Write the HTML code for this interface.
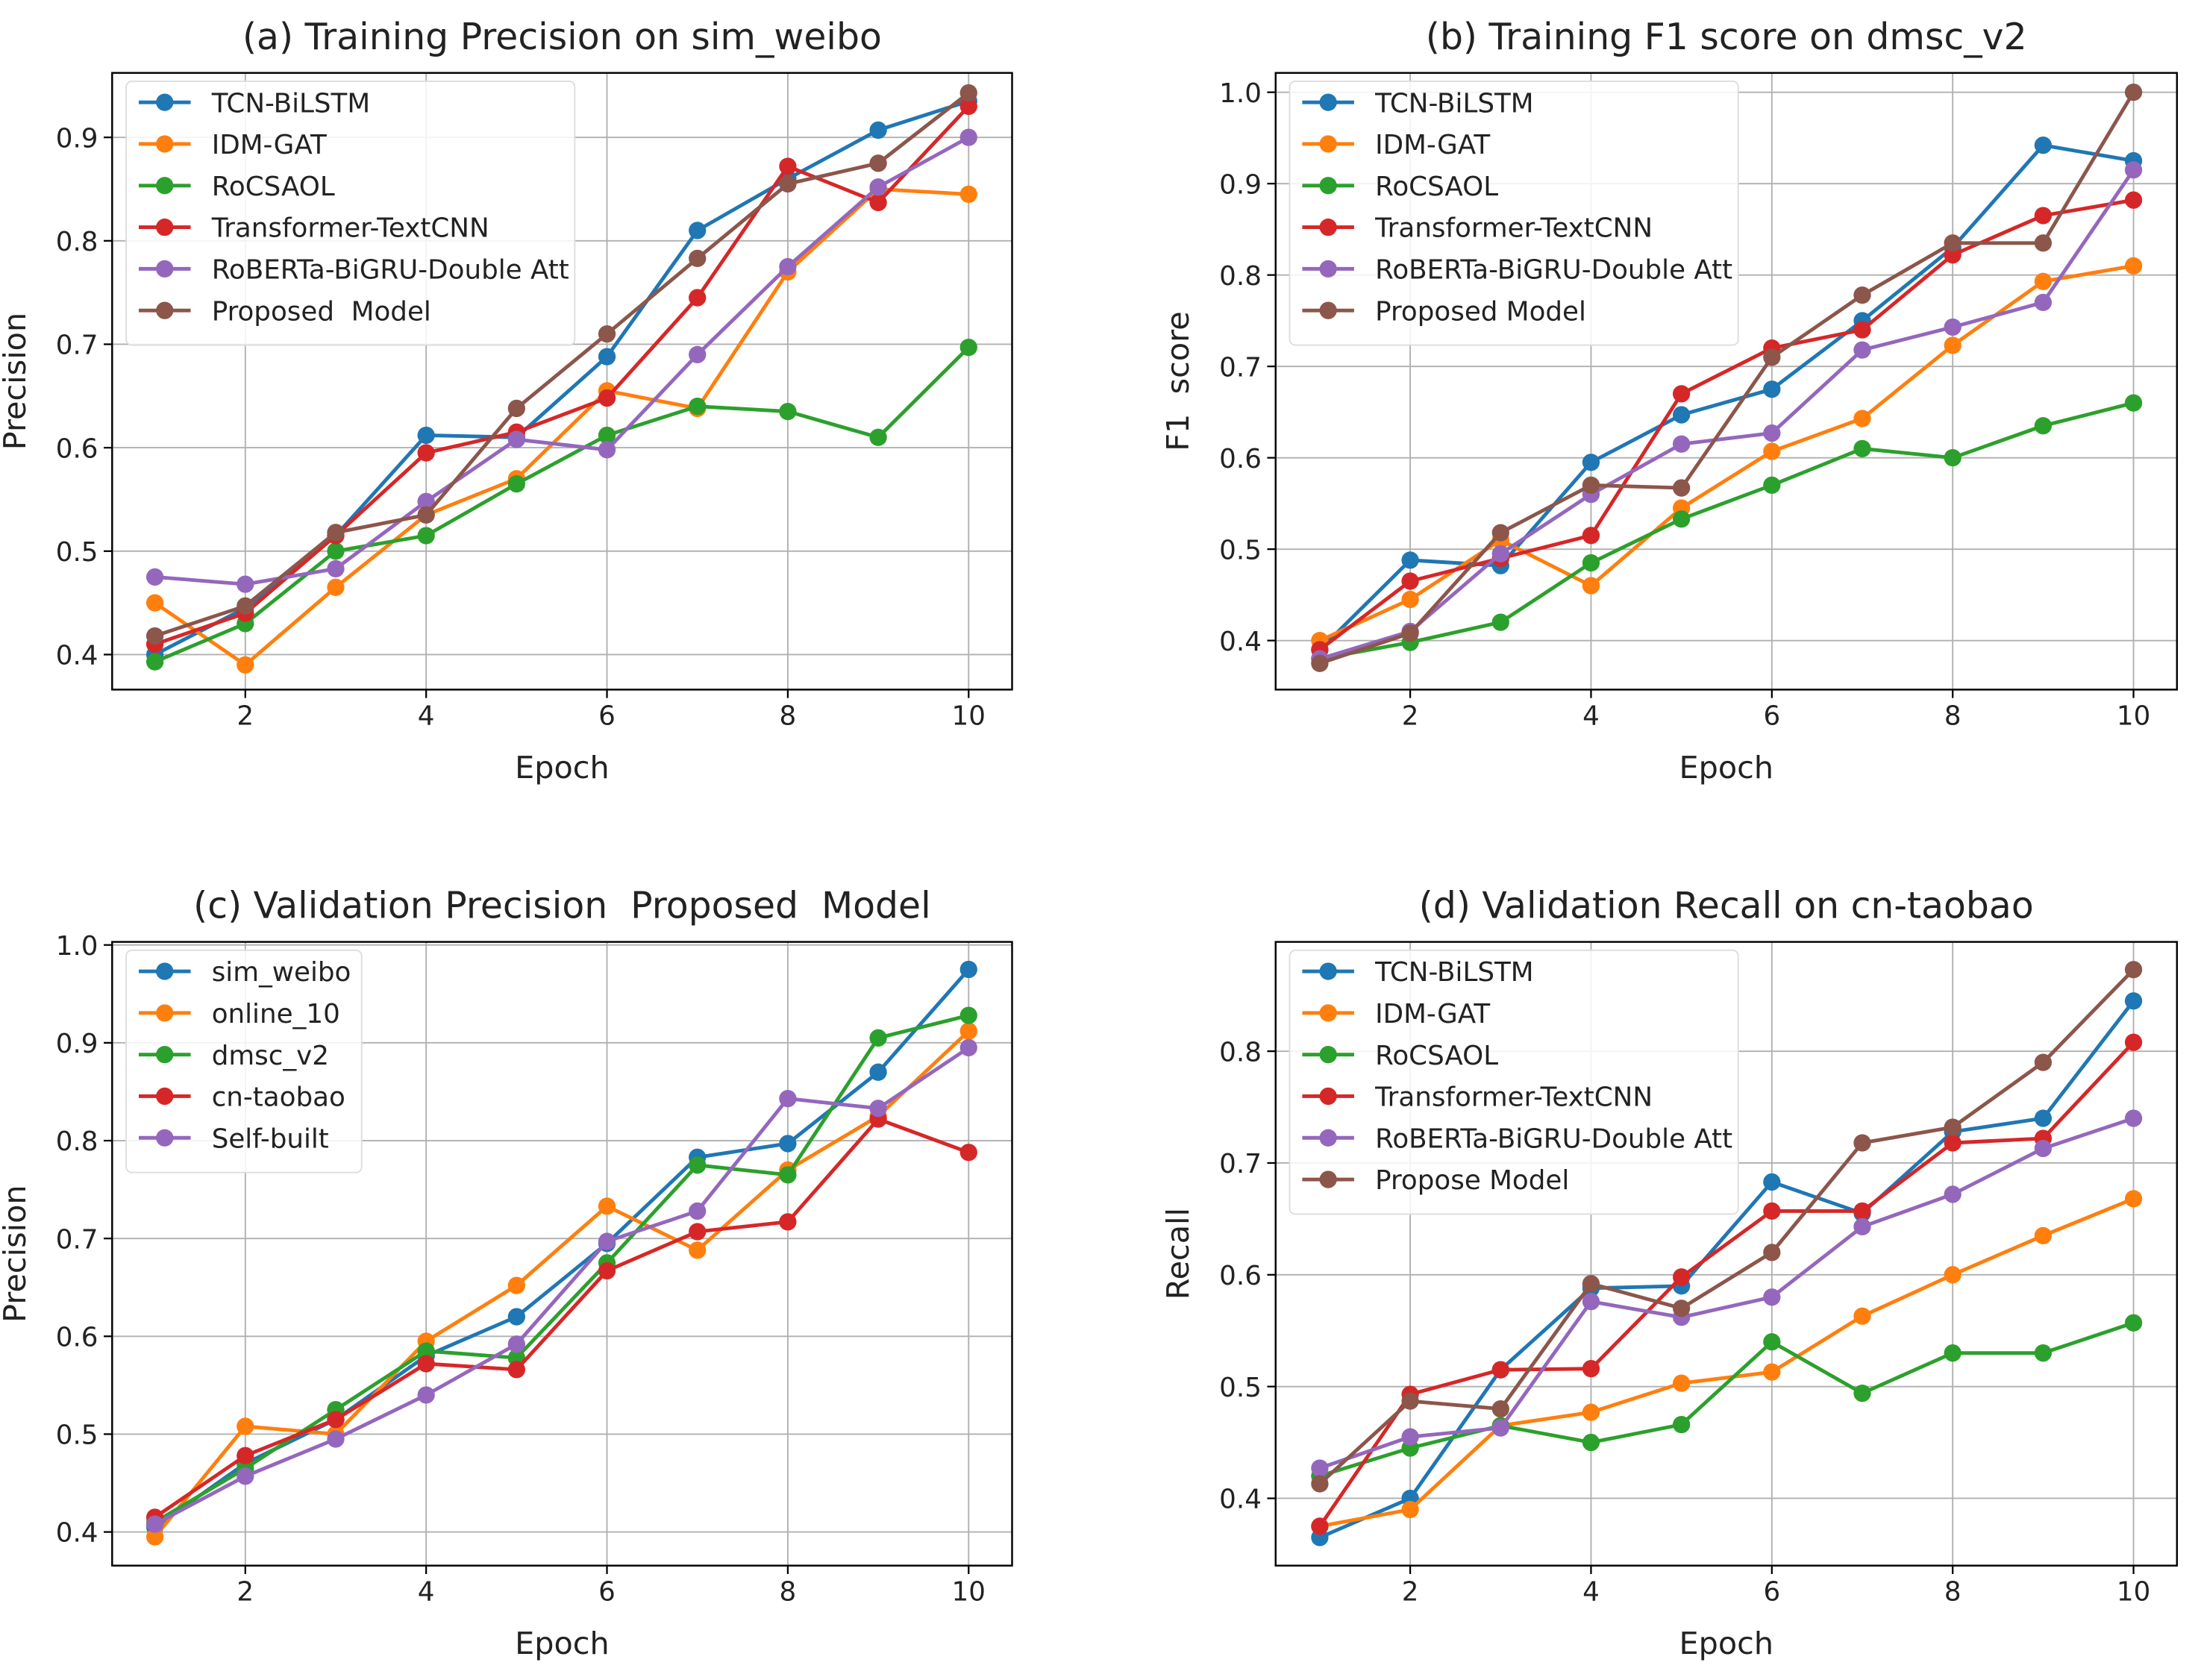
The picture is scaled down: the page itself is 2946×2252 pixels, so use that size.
<!DOCTYPE html>
<html><head><meta charset="utf-8"><style>
html,body{margin:0;padding:0;background:#fff;}
svg{display:block;font-family:"DejaVu Sans","Liberation Sans",sans-serif;}
text{white-space:pre;}
</style></head><body>
<svg id="fig" width="2946" height="2252" viewBox="0 0 1568 1198.6" xmlns="http://www.w3.org/2000/svg"></svg>
<script>
const epochs=[1,2,3,4,5,6,7,8,9,10];
const colors=["#1f77b4","#ff7f0e","#2ca02c","#d62728","#9467bd","#8c564b"];
// (a)
const aNames=["TCN-BiLSTM","IDM-GAT","RoCSAOL","Transformer-TextCNN","RoBERTa-BiGRU-Double Att","Proposed  Model"];
const aTCN=[0.40,0.445,0.515,0.612,0.61,0.688,0.81,0.86,0.907,0.935];
const aIDM=[0.45,0.39,0.465,0.535,0.57,0.655,0.638,0.77,0.85,0.845];
const aRo=[0.393,0.43,0.50,0.515,0.565,0.612,0.64,0.635,0.61,0.697];
const aTrans=[0.41,0.44,0.515,0.595,0.615,0.648,0.745,0.872,0.837,0.93];
const aRoB=[0.475,0.468,0.483,0.548,0.608,0.598,0.69,0.775,0.852,0.90];
const aProp=[0.418,0.447,0.518,0.535,0.638,0.71,0.783,0.855,0.875,0.943];
const aTicks=[0.4,0.5,0.6,0.7,0.8,0.9];
// (b)
const bNames=["TCN-BiLSTM","IDM-GAT","RoCSAOL","Transformer-TextCNN","RoBERTa-BiGRU-Double Att","Proposed Model"];
const bTCN=[0.39,0.488,0.482,0.595,0.647,0.675,0.75,0.83,0.942,0.925];
const bIDM=[0.40,0.445,0.51,0.46,0.545,0.607,0.643,0.723,0.793,0.81];
const bRo=[0.38,0.398,0.42,0.485,0.533,0.57,0.61,0.60,0.635,0.66];
const bTrans=[0.39,0.465,0.49,0.515,0.67,0.72,0.74,0.822,0.865,0.882];
const bRoB=[0.38,0.41,0.495,0.56,0.615,0.627,0.718,0.743,0.77,0.915];
const bProp=[0.375,0.408,0.518,0.57,0.567,0.71,0.778,0.835,0.835,1.0];
const bTicks=[0.4,0.5,0.6,0.7,0.8,0.9,1.0];
// (c)
const cNames=["sim_weibo","online_10","dmsc_v2","cn-taobao","Self-built"];
const cSim=[0.405,0.47,0.515,0.58,0.62,0.695,0.783,0.797,0.87,0.975];
const cOnline=[0.395,0.508,0.50,0.595,0.652,0.733,0.688,0.77,0.825,0.912];
const cDmsc=[0.41,0.465,0.525,0.585,0.578,0.675,0.775,0.765,0.905,0.928];
const cTaobao=[0.415,0.478,0.515,0.572,0.566,0.667,0.707,0.717,0.822,0.788];
const cSelf=[0.408,0.457,0.495,0.54,0.592,0.697,0.728,0.843,0.833,0.895];
const cTicks=[0.4,0.5,0.6,0.7,0.8,0.9,1.0];
// (d)
const dNames=["TCN-BiLSTM","IDM-GAT","RoCSAOL","Transformer-TextCNN","RoBERTa-BiGRU-Double Att","Propose Model"];
const dTCN=[0.365,0.40,0.515,0.588,0.59,0.683,0.655,0.728,0.74,0.845];
const dIDM=[0.375,0.39,0.465,0.477,0.503,0.513,0.563,0.60,0.635,0.668];
const dRo=[0.42,0.445,0.465,0.45,0.466,0.54,0.494,0.53,0.53,0.557];
const dTrans=[0.375,0.493,0.515,0.516,0.598,0.657,0.657,0.718,0.722,0.808];
const dRoB=[0.427,0.455,0.463,0.576,0.562,0.58,0.643,0.672,0.713,0.74];
const dProp=[0.413,0.487,0.48,0.592,0.57,0.62,0.718,0.732,0.79,0.873];
const dTicks=[0.4,0.5,0.6,0.7,0.8];
const xTicks=[2,4,6,8,10];

const NS="http://www.w3.org/2000/svg";
const svg=document.getElementById('fig');
function mk(tag,attrs,parent){const e=document.createElementNS(NS,tag);for(const k in attrs)e.setAttribute(k,attrs[k]);(parent||svg).appendChild(e);return e;}

function panel(o){
  const g=mk('g',{});
  
  
  const L=o.box[0],R=o.box[1],T=o.box[2],B=o.box[3];
  const xs=v=>o.x1+(v-1)*64.5;
  const ys=v=>o.y0-(v-o.v0)*o.per*10;
  xTicks.forEach(t=>{const l=mk('line',{x1:xs(t),x2:xs(t),y1:T,y2:B,stroke:'#b0b0b0','stroke-width':1},g);
    
    mk('line',{x1:xs(t),x2:xs(t),y1:B,y2:B+6,stroke:'#000','stroke-width':1.2},g);
    const tx=mk('text',{x:xs(t),y:B+25,'font-size':19,'text-anchor':'middle',fill:'#222'},g);tx.textContent=t;
    });
  o.ticks.forEach(t=>{const l=mk('line',{x1:L,x2:R,y1:ys(t),y2:ys(t),stroke:'#b0b0b0','stroke-width':1},g);
    
    mk('line',{x1:L-6,x2:L,y1:ys(t),y2:ys(t),stroke:'#000','stroke-width':1.2},g);
    const tx=mk('text',{x:L-10,y:ys(t)+7,'font-size':19,'text-anchor':'end',fill:'#222'},g);tx.textContent=t.toFixed(1);
    });
  o.series.forEach((s,i)=>{
    const sg=mk('g',{},g);
    
    
    mk('polyline',{points:s.map((v,j)=>xs(epochs[j])+','+ys(v)).join(' '),fill:'none',stroke:colors[i],'stroke-width':2.6},sg);
    s.forEach((v,j)=>{const c=mk('circle',{cx:xs(epochs[j]),cy:ys(v),r:6.2,fill:colors[i]},sg);
      });
  });
  const fr=mk('rect',{x:L,y:T,width:R-L,height:B-T,fill:'none',stroke:'#000','stroke-width':1.3},g);
  
  const n=o.names.length, lh=29.7;
  const lg=mk('g',{},g);
  
  mk('rect',{x:L+10,y:T+6,width:o.legW,height:n*lh+10,rx:4,fill:'#fff','fill-opacity':0.85,stroke:'#ddd','stroke-width':1},lg);
  o.names.forEach((nm,i)=>{const y=T+21+i*lh;
    mk('line',{x1:L+19,x2:L+56,y1:y,y2:y,stroke:colors[i],'stroke-width':2.6},lg);
    mk('circle',{cx:L+37.5,cy:y,r:6.2,fill:colors[i]},lg);
    const t=mk('text',{x:L+71,y:y+7,'font-size':19,fill:'#222'},lg);t.textContent=nm;
    });
  const ti=mk('text',{x:(L+R)/2,y:T-17,'font-size':26,'text-anchor':'middle',fill:'#222'},g);ti.textContent=o.title;
  
  const xl=mk('text',{x:(L+R)/2,y:B+63,'font-size':22,'text-anchor':'middle',fill:'#222'},g);xl.textContent='Epoch';
  
  const yx=L-62,yy=(T+B)/2;
  const yl=mk('text',{x:yx,y:yy,'font-size':22,'text-anchor':'middle',fill:'#222',transform:`rotate(-90 ${yx} ${yy})`},g);yl.textContent=o.ylabel;
  
}
panel({id:'a',box:[80,722,52,492],x1:110.5,y0:467,v0:0.4,per:73.8,ticks:aTicks,names:aNames,
  series:[aTCN,aIDM,aRo,aTrans,aRoB,aProp],legW:320,title:'(a) Training Precision on sim_weibo',ylabel:'Precision'});
panel({id:'b',box:[910,1553,52,492],x1:941.5,y0:457,v0:0.4,per:65.2,ticks:bTicks,names:bNames,
  series:[bTCN,bIDM,bRo,bTrans,bRoB,bProp],legW:320,title:'(b) Training F1 score on dmsc_v2',ylabel:'F1  score'});
panel({id:'c',box:[80,722,672,1117],x1:110.5,y0:1093,v0:0.4,per:69.8,ticks:cTicks,names:cNames,
  series:[cSim,cOnline,cDmsc,cTaobao,cSelf],legW:168,title:'(c) Validation Precision  Proposed  Model',ylabel:'Precision'});
panel({id:'d',box:[910,1553,672,1117],x1:941.5,y0:1069,v0:0.4,per:79.75,ticks:dTicks,names:dNames,
  series:[dTCN,dIDM,dRo,dTrans,dRoB,dProp],legW:320,title:'(d) Validation Recall on cn-taobao',ylabel:'Recall'});
</script>
</body></html>
